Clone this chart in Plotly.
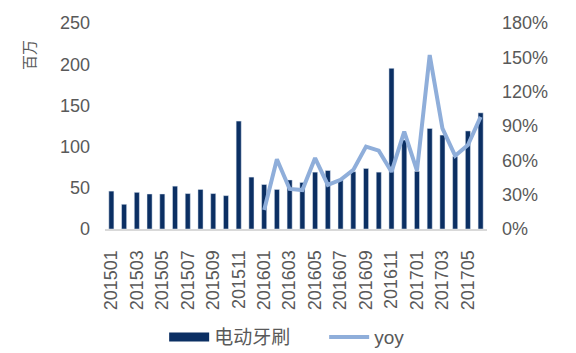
import plotly.graph_objects as go

months = ["201501","201502","201503","201504","201505","201506","201507","201508","201509","201510","201511","201512",
          "201601","201602","201603","201604","201605","201606","201607","201608","201609","201610","201611","201612",
          "201701","201702","201703","201704","201705","201706"]
sales = [46, 30, 44.5, 42.5, 42.5, 52, 43, 48, 43, 40.5, 131, 63,
         54, 48, 59.5, 56.5, 69, 71, 59.5, 69.5, 73.5, 69, 195, 108,
         70, 122, 114, 88, 119, 141]
yoy_months = months[12:]
yoy = [16.6, 61, 35, 34, 62, 38.5, 43, 51.6, 72, 68.5, 50, 85,
       51, 152, 88, 64, 73.4, 98]
tick_labels = months[::2]

navy = "#0B2F63"
light = "#8FAEDA"
grey = "#595959"
font = "Liberation Sans, Arial, Noto Sans CJK SC, sans-serif"

fig = go.Figure()
fig.add_trace(go.Bar(x=months, y=sales, marker_color=navy, name="电动牙刷", showlegend=False, yaxis="y"))
fig.add_trace(go.Scatter(x=yoy_months, y=yoy, mode="lines", line=dict(color=light, width=4),
                         name="yoy", showlegend=False, yaxis="y2"))
# legend entries
fig.add_trace(go.Scatter(x=[None], y=[None], mode="lines", line=dict(color=navy, width=9), name="电动牙刷"))
fig.add_trace(go.Scatter(x=[None], y=[None], mode="lines", line=dict(color=light, width=4), name="yoy"))

fig.update_layout(
    width=576, height=353,
    margin=dict(l=105, r=89, t=23, b=124, autoexpand=False),
    paper_bgcolor="white", plot_bgcolor="white",
    bargap=0.6,
    font=dict(family=font, size=18, color=grey),
    xaxis=dict(type="category", categoryorder="array", categoryarray=months,
               tickmode="array", tickvals=tick_labels, ticktext=tick_labels,
               tickangle=-90, showgrid=False, showline=True, linecolor="#D9D9D9", linewidth=2,
               ticks="", ticklabelstandoff=12, automargin=False, tickfont=dict(size=18, color=grey)),
    yaxis=dict(range=[0, 250], dtick=50, showgrid=False, zeroline=False, ticks="",
               ticklabelstandoff=14, automargin=False,
               tickfont=dict(size=18, color=grey)),
    yaxis2=dict(range=[0, 180], dtick=30, overlaying="y", side="right", showgrid=False,
                zeroline=False, ticks="", ticksuffix="%", ticklabelstandoff=14, automargin=False,
                tickfont=dict(size=18, color=grey)),
    legend=dict(orientation="h", xref="container", yref="container", x=0.285, xanchor="left",
                y=0.045, yanchor="middle", entrywidth=105,
                font=dict(size=19, color=grey), itemwidth=40, bgcolor="rgba(0,0,0,0)"),
    showlegend=True,
    annotations=[dict(text="百万", textangle=-90, xref="paper", yref="paper", x=-0.196, y=0.845,
                      xanchor="center", yanchor="middle", showarrow=False,
                      font=dict(size=15, color=grey))],
)

fig.write_html("out.html")
